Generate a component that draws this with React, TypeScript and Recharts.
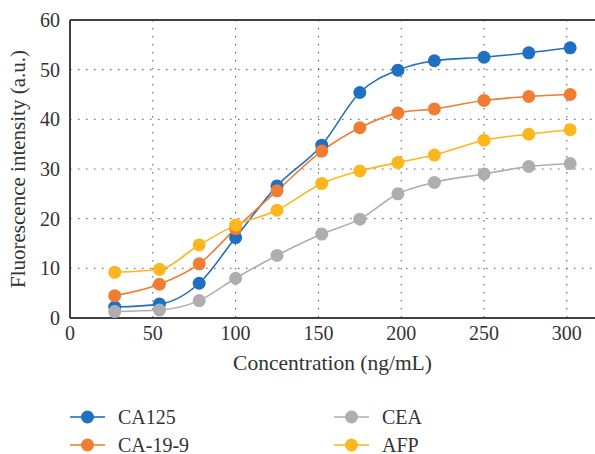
import React from "react";
import {
  LineChart,
  Line,
  CartesianGrid,
  XAxis,
  YAxis,
  ReferenceLine,
  Label,
} from "recharts";

const concentration = [27, 54, 78, 100, 125, 152, 175, 198, 220, 250, 277, 302];
const ca125 = [2.2, 2.8, 7.0, 16.2, 26.6, 34.8, 45.4, 49.9, 51.8, 52.5, 53.4, 54.4];
const ca199 = [4.5, 6.8, 10.9, 18.0, 25.6, 33.6, 38.3, 41.3, 42.1, 43.8, 44.6, 45.0];
const cea = [1.3, 1.6, 3.5, 8.0, 12.6, 16.9, 19.9, 25.0, 27.3, 29.0, 30.5, 31.1];
const afp = [9.2, 9.8, 14.7, 18.7, 21.7, 27.1, 29.6, 31.3, 32.8, 35.8, 37.0, 37.9];

const xTicks = [0, 50, 100, 150, 200, 250, 300];
const yTicks = [0, 10, 20, 30, 40, 50, 60];

const series = [
  { key: "ca125", name: "CA125", color: "#1F70C1", legendLine: "#4A8BD0" },
  { key: "ca199", name: "CA-19-9", color: "#F07D31", legendLine: "#F49A5E" },
  { key: "cea", name: "CEA", color: "#AEAEB2", legendLine: "#C2C2C5" },
  { key: "afp", name: "AFP", color: "#FDB71E", legendLine: "#FDC54C" },
];

const data = concentration.map((c, i) => ({
  c,
  ca125: ca125[i],
  ca199: ca199[i],
  cea: cea[i],
  afp: afp[i],
}));

const FONT = '"Liberation Serif", "DejaVu Serif", serif';
const tickStyle = { fill: "#333", fontSize: 20, fontFamily: FONT };

function LegendItem({ s, x, y }: { s: (typeof series)[number]; x: number; y: number }) {
  return (
    <div
      style={{
        position: "absolute",
        left: x,
        top: y - 14,
        height: 28,
        display: "flex",
        alignItems: "center",
        fontFamily: FONT,
        fontSize: 20,
        color: "#333",
      }}
    >
      <svg width={35} height={28} style={{ marginRight: 13 }}>
        <line x1={0} y1={14} x2={35} y2={14} stroke={s.legendLine} strokeWidth={2} />
        <circle cx={17.5} cy={14} r={6.5} fill={s.color} />
      </svg>
      {s.name}
    </div>
  );
}

export default function App() {
  return (
    <div style={{ position: "relative", width: 595, height: 454, background: "#fff" }}>
      <style>{"body{margin:0}"}</style>
      <LineChart
        width={595}
        height={378}
        data={data}
        margin={{ top: 20, right: 0, left: 0, bottom: 0 }}
      >
        <CartesianGrid
          stroke="#555"
          strokeDasharray="1.5 6.5"
          verticalValues={[50, 100, 150, 200, 250, 300]}
          horizontalValues={[10, 20, 30, 40, 50]}
        />
        <XAxis
          dataKey="c"
          type="number"
          domain={[0, 317]}
          ticks={xTicks}
          tick={tickStyle}
          tickLine={false}
          axisLine={{ stroke: "#404040", strokeWidth: 2 }}
          height={60}
          allowDataOverflow
        >
          <Label
            value="Concentration (ng/mL)"
            position="insideTop"
            offset={37}
            style={{ fill: "#333", fontSize: 21.5, fontFamily: FONT }}
          />
        </XAxis>
        <YAxis
          type="number"
          domain={[0, 60]}
          ticks={yTicks}
          tick={tickStyle}
          tickLine={false}
          axisLine={{ stroke: "#404040", strokeWidth: 2 }}
          width={70}
          tickMargin={4}
        >
          <Label
            content={({ viewBox }: any) => {
              const cy = viewBox.y + viewBox.height / 2;
              return (
                <text
                  x={18}
                  y={cy}
                  transform={`rotate(-90, 18, ${cy})`}
                  textAnchor="middle"
                  dominantBaseline="central"
                  style={{ fill: "#333", fontSize: 21, fontFamily: FONT }}
                >
                  Fluorescence intensity (a.u.)
                </text>
              );
            }}
          />
        </YAxis>
        <ReferenceLine y={60} stroke="#404040" strokeWidth={2} />
        {series.map((s) => (
          <Line
            key={s.key}
            type="monotone"
            dataKey={s.key}
            name={s.name}
            stroke={s.color}
            strokeWidth={1.6}
            dot={{ r: 6.5, fill: s.color, stroke: "none" }}
            activeDot={false}
            isAnimationActive={false}
          />
        ))}
      </LineChart>
      <LegendItem s={series[0]} x={70} y={417} />
      <LegendItem s={series[1]} x={70} y={445} />
      <LegendItem s={series[2]} x={334} y={417} />
      <LegendItem s={series[3]} x={334} y={445} />
    </div>
  );
}
